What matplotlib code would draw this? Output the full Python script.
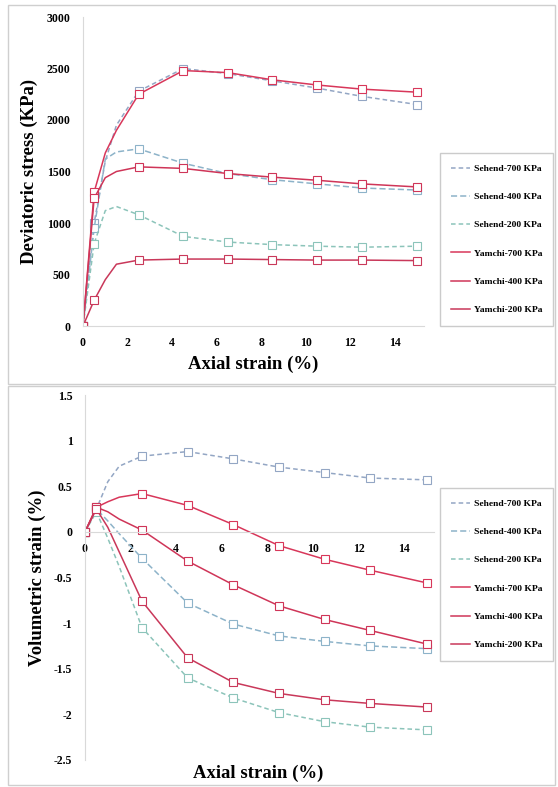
#!/usr/bin/env python3

import matplotlib.pyplot as plt
from matplotlib.patches import Rectangle

# Axial strain (%) at which each test was sampled.
strain = [0, 0.5, 1, 1.5, 2.5, 4.5, 6.5, 8.5, 10.5, 12.5, 15]

labels = ['Sehend-700 KPa', 'Sehend-400 KPa', 'Sehend-200 KPa',
          'Yamchi-700 KPa', 'Yamchi-400 KPa', 'Yamchi-200 KPa']

# Deviatoric stress (KPa).
q_sehend_700 = [0, 1000, 1600, 1950, 2280, 2500, 2450, 2380, 2310, 2230, 2150]
q_sehend_400 = [0, 950, 1620, 1690, 1720, 1580, 1480, 1420, 1380, 1340, 1320]
q_sehend_200 = [0, 800, 1120, 1160, 1080, 870, 815, 790, 775, 765, 775]
q_yamchi_700 = [0, 1300, 1680, 1900, 2250, 2480, 2460, 2390, 2340, 2300, 2270]
q_yamchi_400 = [0, 1240, 1440, 1500, 1545, 1530, 1480, 1445, 1415, 1380, 1350]
q_yamchi_200 = [0, 250, 450, 600, 640, 650, 650, 645, 640, 640, 635]

# Volumetric strain (%).
ev_sehend_700 = [0, 0.25, 0.55, 0.72, 0.83, 0.88, 0.80, 0.71, 0.65, 0.59, 0.57]
ev_sehend_400 = [0, 0.25, 0.12, -0.02, -0.29, -0.78, -1.01, -1.14, -1.20, -1.25, -1.28]
ev_sehend_200 = [0, 0.22, -0.07, -0.38, -1.05, -1.60, -1.82, -1.98, -2.08, -2.14, -2.17]
ev_yamchi_700 = [0, 0.27, 0.33, 0.38, 0.42, 0.29, 0.08, -0.15, -0.30, -0.42, -0.56]
ev_yamchi_400 = [0, 0.27, 0.22, 0.14, 0.02, -0.32, -0.58, -0.81, -0.96, -1.08, -1.23]
ev_yamchi_200 = [0, 0.25, 0.05, -0.22, -0.76, -1.38, -1.65, -1.77, -1.84, -1.88, -1.92]

styles = [dict(color='#93a6c4', ls=(0, (3, 2))),
          dict(color='#8db3c9', ls=(0, (4, 2))),
          dict(color='#8cc4ba', ls=(0, (3, 2))),
          dict(color='#d8375a', ls='-'),
          dict(color='#cf3558', ls='-'),
          dict(color='#c9385a', ls='-')]
marks = [0, 1, 4, 5, 6, 7, 8, 9, 10]

plt.rcParams['font.family'] = 'Liberation Serif'
plt.rcParams['font.weight'] = 'bold'

fig = plt.figure(figsize=(5.58, 7.87), dpi=100)

# panel frames
for y0, h in [(403 / 787, 379 / 787), (2 / 787, 399 / 787)]:
    fig.patches.append(Rectangle((8 / 558, y0), 547 / 558, h, transform=fig.transFigure,
                                 fill=False, ec='#cfcfcf', lw=1.0))


def draw(ax, series):
    for vals, st, lab in zip(series, styles, labels):
        ax.plot(strain, vals, color=st['color'], ls=st['ls'], lw=1.1,
                marker='s', ms=5.5, mfc='white', mec=st['color'], mew=0.8,
                markevery=marks, label=lab)
    for side in ['top', 'right']:
        ax.spines[side].set_visible(False)
    for side in ['left', 'bottom']:
        ax.spines[side].set_color('#d9d9d9')
    ax.tick_params(axis='y', length=0, labelsize=8.5, pad=9)
    ax.tick_params(axis='x', length=0, labelsize=8.5, pad=8)
    for t in ax.get_xticklabels() + ax.get_yticklabels():
        t.set_fontweight('bold')


def legend(ax, y_top):
    leg = ax.legend(loc='upper left', bbox_to_anchor=(440 / 558, y_top), bbox_transform=fig.transFigure,
                    frameon=True, fancybox=False, edgecolor='#bfbfbf', fontsize=6.8,
                    handlelength=2.0, handletextpad=0.35, labelspacing=2.08,
                    borderpad=1.2, borderaxespad=0, markerscale=0)
    for h in leg.legend_handles:
        h.set_marker('')
    return leg


# Deviatoric stress vs axial strain
ax1 = fig.add_axes([83 / 558, 461 / 787, 341 / 558, 309 / 787])
draw(ax1, [q_sehend_700, q_sehend_400, q_sehend_200, q_yamchi_700, q_yamchi_400, q_yamchi_200])
ax1.set_xlim(0, 15.3)
ax1.set_ylim(0, 3000)
ax1.set_xticks(range(0, 16, 2))
ax1.set_yticks(range(0, 3001, 500))
ax1.set_xlabel('Axial strain (%)', fontsize=13.5, fontweight='bold', labelpad=5)
ax1.set_ylabel('Deviatoric stress (KPa)', fontsize=13.5, fontweight='bold', labelpad=6)
legend(ax1, 634 / 787)

# Volumetric strain vs axial strain
ax2 = fig.add_axes([85 / 558, 27 / 787, 349 / 558, 365 / 787])
draw(ax2, [ev_sehend_700, ev_sehend_400, ev_sehend_200, ev_yamchi_700, ev_yamchi_400, ev_yamchi_200])
ax2.set_xlim(0, 15.3)
ax2.set_ylim(-2.5, 1.5)
ax2.set_xticks(range(0, 16, 2))
ax2.set_yticks([1.5, 1, 0.5, 0, -0.5, -1, -1.5, -2, -2.5])
ax2.set_yticklabels(['1.5', '1', '0.5', '0', '-0.5', '-1', '-1.5', '-2', '-2.5'], fontweight='bold')
ax2.spines['bottom'].set_position(('data', 0))
ax2.set_ylabel('Volumetric strain (%)', fontsize=13.5, fontweight='bold', labelpad=6)
fig.text(258 / 558, 14 / 787, 'Axial strain (%)', fontsize=13.5, fontweight='bold', ha='center', va='center')
legend(ax2, 299 / 787)

plt.savefig('out.png', dpi=100)
